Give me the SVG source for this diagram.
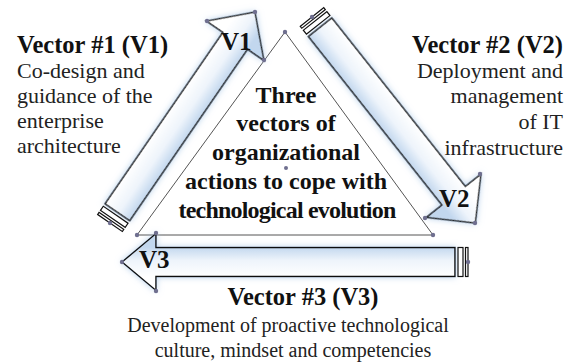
<svg xmlns="http://www.w3.org/2000/svg" width="571" height="362" viewBox="0 0 571 362">
<style>
.arrow{stroke:#111;stroke-width:1.5;stroke-linejoin:miter;filter:url(#glow)}
.stripe{fill:#fff;stroke:#111;stroke-width:1.2}
.tri{fill:#fff;stroke:#555;stroke-width:1}
.dot{fill:#6f6f8f}
.head{font-family:"Liberation Serif","Times New Roman",serif;font-weight:bold;font-size:24.5px;fill:#111}
.desc{font-family:"Liberation Serif","Times New Roman",serif;font-size:22px;fill:#222}
.desc3{font-family:"Liberation Serif","Times New Roman",serif;font-size:20px;fill:#222;text-anchor:middle}
.center{font-family:"Liberation Serif","Times New Roman",serif;font-weight:bold;font-size:24px;fill:#111;text-anchor:middle}
.vl{font-family:"Liberation Serif","Times New Roman",serif;font-weight:bold;font-size:25px;fill:#111}
</style>
<defs>
<linearGradient id="g1" gradientUnits="userSpaceOnUse" x1="0" y1="-15" x2="0" y2="15">
<stop offset="0" stop-color="#ffffff"/>
<stop offset="0.55" stop-color="#eef4fb"/>
<stop offset="1" stop-color="#c2d7ee"/>
</linearGradient>
<filter id="glow" x="-20%" y="-20%" width="140%" height="140%">
<feGaussianBlur in="SourceAlpha" stdDeviation="3" result="b"/>
<feFlood flood-color="#9fc0e4" flood-opacity="0.7"/>
<feComposite in2="b" operator="in" result="s"/>
<feMerge><feMergeNode in="s"/><feMergeNode in="SourceGraphic"/></feMerge>
</filter>
</defs>

<g id="triangle">
<polygon class="tri" points="285,32 137,235 433,235"/>
<text class="center" x="286" y="103">Three</text>
<text class="center" x="286" y="131">vectors of</text>
<text class="center" x="286" y="160">organizational</text>
<text class="center" x="286" y="189">actions to cope with</text>
<text class="center" x="287" y="218" style="letter-spacing:-0.8px">technological evolution</text>
<circle class="dot" cx="285" cy="32" r="2.2"/>
<circle class="dot" cx="137" cy="235" r="2.2"/>
<circle class="dot" cx="433" cy="235" r="2.2"/>
<circle class="dot" cx="286" cy="168" r="2"/>
</g>

<g id="connectors">
<g id="v1-arrow" transform="translate(110,223) rotate(-55.5)">
<path class="arrow" fill="url(#g1)" d="M13,-15 H221 V-35 L256,0 L221,35 V15 H13 Z"/>
<rect class="stripe" x="5" y="-15" width="5" height="30"/>
<rect class="stripe" x="0" y="-15" width="2.5" height="30"/>
</g>
<g id="v2-arrow" transform="translate(312,17) rotate(51.6)">
<path class="arrow" fill="url(#g1)" d="M13,-15 H228 V-35 L263,0 L228,35 V15 H13 Z"/>
<rect class="stripe" x="5" y="-15" width="5" height="30"/>
<rect class="stripe" x="0" y="-15" width="2.5" height="30"/>
</g>
<g id="v3-arrow" transform="translate(468,262) rotate(180)">
<path class="arrow" fill="url(#g1)" d="M13,-14.5 H312 V-28.5 L346,0 L312,28.5 V14.5 H13 Z"/>
<rect class="stripe" x="5" y="-14.5" width="5" height="29"/>
<rect class="stripe" x="0" y="-14.5" width="2.5" height="29"/>
</g>
<circle class="dot" cx="207" cy="21" r="2.2"/>
<circle class="dot" cx="255" cy="12" r="2.2"/>
<circle class="dot" cx="264" cy="60" r="2.2"/>
<circle class="dot" cx="110" cy="223" r="2.2"/>
<circle class="dot" cx="480" cy="174" r="2.2"/>
<circle class="dot" cx="425" cy="218" r="2.2"/>
<circle class="dot" cx="475" cy="223" r="2.2"/>
<circle class="dot" cx="312" cy="17" r="2.2"/>
<circle class="dot" cx="122" cy="262" r="2.2"/>
<circle class="dot" cx="156" cy="233" r="2.2"/>
<circle class="dot" cx="156" cy="291" r="2.2"/>
<circle class="dot" cx="468" cy="262" r="2.2"/>
</g>

<g id="v1">
<text class="vl" x="221" y="50">V1</text>
<text class="head" x="17" y="53">Vector #1 (V1)</text>
<text class="desc" x="17" y="78">Co-design and</text>
<text class="desc" x="17" y="103">guidance of the</text>
<text class="desc" x="17" y="128">enterprise</text>
<text class="desc" x="17" y="153">architecture</text>
</g>

<g id="v2">
<text class="vl" x="439" y="207">V2</text>
<text class="head" x="563" y="53" text-anchor="end">Vector #2 (V2)</text>
<text class="desc" x="563" y="78" text-anchor="end">Deployment and</text>
<text class="desc" x="563" y="103" text-anchor="end">management</text>
<text class="desc" x="563" y="129" text-anchor="end">of IT</text>
<text class="desc" x="563" y="155" text-anchor="end">infrastructure</text>
</g>

<g id="v3">
<text class="vl" x="139" y="268">V3</text>
<text class="head" x="303" y="305" text-anchor="middle">Vector #3 (V3)</text>
<text class="desc3" x="288" y="332">Development of proactive technological</text>
<text class="desc3" x="293" y="357">culture, mindset and competencies</text>
</g>
</svg>
